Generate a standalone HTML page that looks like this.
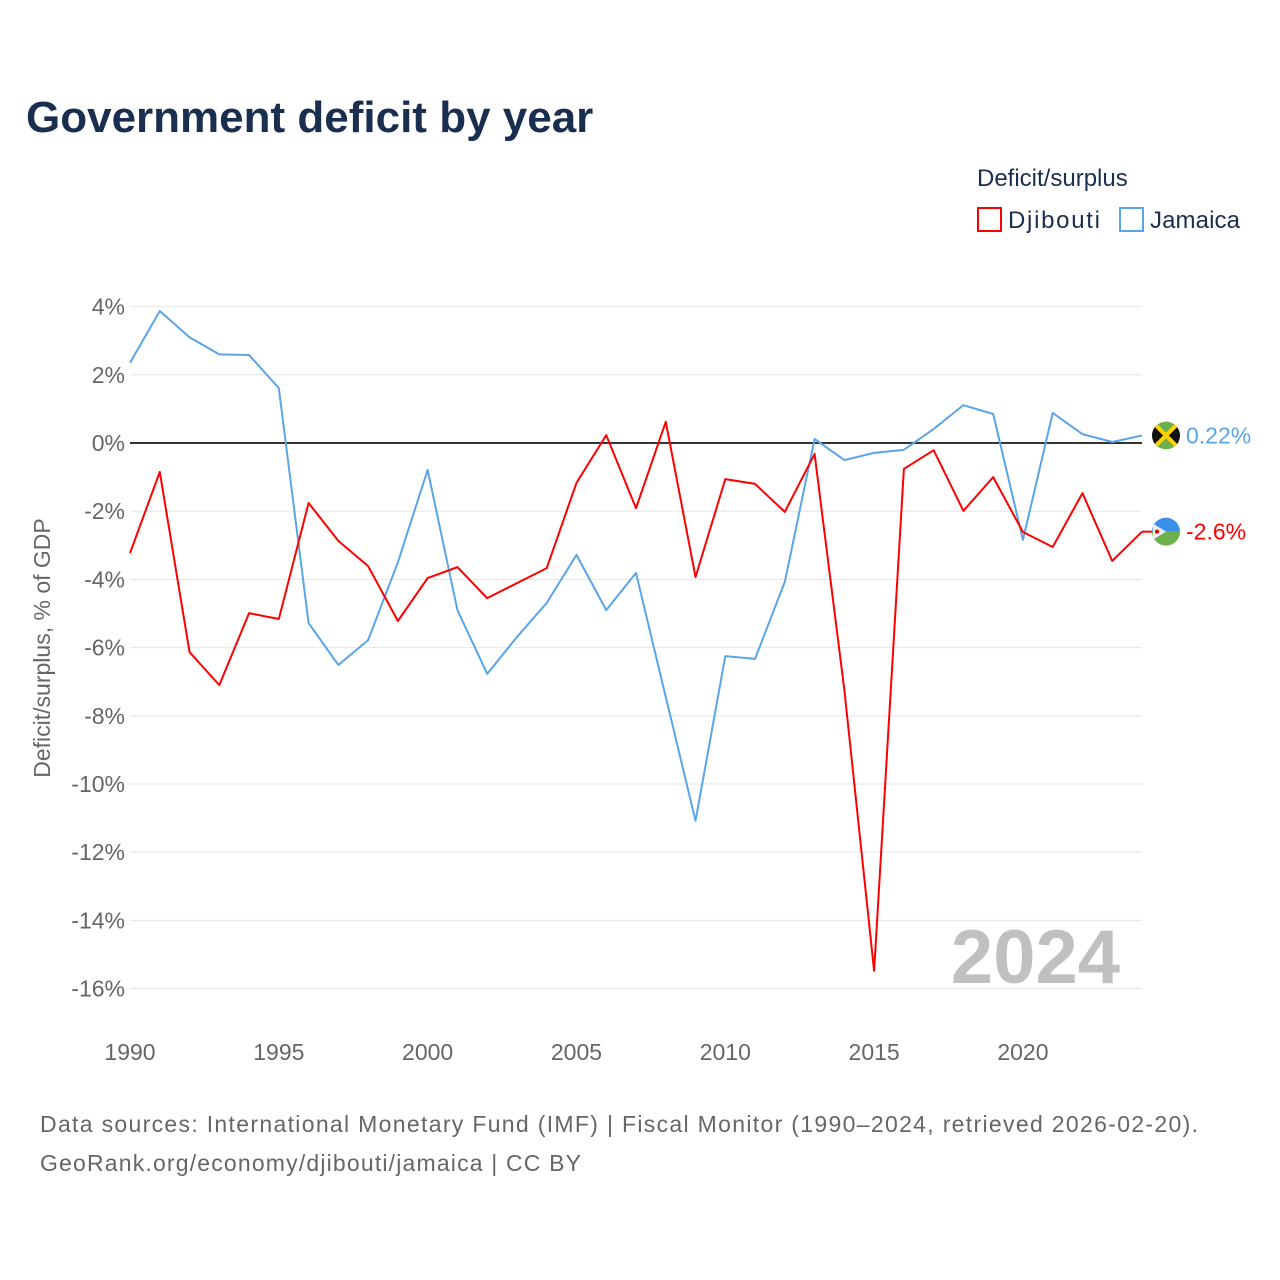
<!DOCTYPE html>
<html><head><meta charset="utf-8"><style>
html,body{margin:0;padding:0;background:#fff}
svg{display:block;font-family:"Liberation Sans",Lato,sans-serif}
</style></head><body>
<svg id="chart" width="1280" height="1280" viewBox="0 0 1280 1280">
<defs><clipPath id="jc"><circle id="jcc" cx="1166" cy="436" r="14"/></clipPath></defs>
<text x="26" y="132" font-size="44" font-weight="bold" fill="#1a2e4f">Government deficit by year</text>
<g>
<text x="977" y="186" font-size="24" fill="#1a2e4f">Deficit/surplus</text>
<rect x="978" y="208" width="23" height="23" fill="none" stroke="#f00" stroke-width="2"/>
<text x="1008" y="228" font-size="24" fill="#1a2e4f" textLength="92">Djibouti</text>
<rect x="1120" y="208" width="23" height="23" fill="none" stroke="#5aa5e8" stroke-width="2"/>
<text x="1150" y="228" font-size="24" fill="#1a2e4f" textLength="90">Jamaica</text>
</g>
<g id="grid"></g>
<g id="yticks"></g>
<g id="xticks"></g>
<text transform="translate(50,648) rotate(-90)" text-anchor="middle" font-size="23" fill="#666">Deficit/surplus, % of GDP</text>
<text x="1120" y="983" text-anchor="end" font-size="76" font-weight="bold" fill="#c0c0c0">2024</text>
<g id="series"></g>
<text x="40" y="1132" font-size="23" fill="#666" textLength="1158">Data sources: International Monetary Fund (IMF) | Fiscal Monitor (1990–2024, retrieved 2026-02-20).</text>
<text x="40" y="1171" font-size="23" fill="#666" textLength="541">GeoRank.org/economy/djibouti/jamaica | CC BY</text>
</svg>
<script>
const years = [];
for (let y = 1990; y <= 2024; y++) years.push(y);
const djibouti = [-3.23,-0.85,-6.13,-7.1,-4.99,-5.16,-1.76,-2.87,-3.61,-5.22,-3.96,-3.64,-4.55,-4.11,-3.67,-1.17,0.23,-1.91,0.62,-3.93,-1.06,-1.2,-2.02,-0.32,-7.24,-15.48,-0.76,-0.21,-1.99,-1.0,-2.61,-3.05,-1.47,-3.46,-2.6];
const jamaica = [2.35,3.87,3.1,2.6,2.58,1.61,-5.28,-6.51,-5.78,-3.5,-0.79,-4.9,-6.77,-5.69,-4.69,-3.28,-4.9,-3.81,-7.45,-11.08,-6.25,-6.33,-4.07,0.12,-0.5,-0.29,-0.2,0.41,1.11,0.85,-2.84,0.88,0.26,0.03,0.22];
const yTickValues = [4,2,0,-2,-4,-6,-8,-10,-12,-14,-16];
const xTickValues = [1990,1995,2000,2005,2010,2015,2020];

const NS = "http://www.w3.org/2000/svg";
const xS = v => 130 + (v - 1990) * (1142 - 130) / 34;
const yS = v => 443 - v * 34.1;
function mk(tag, attrs, parent) {
  const e = document.createElementNS(NS, tag);
  for (const k in attrs) e.setAttribute(k, attrs[k]);
  parent.appendChild(e);
  return e;
}
const grid = document.getElementById('grid');
const yt = document.getElementById('yticks');
const xt = document.getElementById('xticks');
const ser = document.getElementById('series');
yTickValues.forEach(v => {
  const l = mk('line', {x1:130, x2:1142, y1:yS(v), y2:yS(v), stroke: v===0?'#333':'#e6e6e6', 'stroke-width': v===0?2:1}, grid);
  
  
  const t = mk('text', {x:125, y:yS(v)+8, 'text-anchor':'end', 'font-size':23, fill:'#666'}, yt);
  t.textContent = v + '%';
  
  
});
xTickValues.forEach(v => {
  const t = mk('text', {x:xS(v), y:1060, 'text-anchor':'middle', 'font-size':23, fill:'#666'}, xt);
  t.textContent = v;
  
  
});
function line(data, color, name) {
  const p = mk('polyline', {points: data.map((v,i)=>xS(years[i])+','+yS(v)).join(' '), fill:'none', stroke:color, 'stroke-width':2, 'stroke-linejoin':'round'}, ser);
  
  
}
line(jamaica, '#5aa5e8', 'jamaica-line');
line(djibouti, '#f00', 'djibouti-line');

const jl = jamaica[jamaica.length-1], dl = djibouti[djibouti.length-1];
const jy = yS(jl), dy = yS(dl);
document.getElementById('jcc').setAttribute('cy', jy);
const jg = mk('g', {'clip-path':'url(#jc)'}, ser);


mk('circle', {cx:1166, cy:jy, r:14, fill:'#6ab04c'}, jg);
mk('path', {d:`M1152 ${jy-14} L1166 ${jy} L1152 ${jy+14} Z M1180 ${jy-14} L1166 ${jy} L1180 ${jy+14} Z`, fill:'#111'}, jg);
mk('path', {d:`M1152 ${jy-14} L1180 ${jy+14} M1180 ${jy-14} L1152 ${jy+14}`, stroke:'#fed100', 'stroke-width':4}, jg);
const jt = mk('text', {x:1186, y:jy+8, 'font-size':23, fill:'#5aa5e8'}, ser);
jt.textContent = jl.toFixed(2) + '%';



mk('line', {x1:1142, x2:1152, y1:dy, y2:dy, stroke:'#f00', 'stroke-width':2}, ser);
const dg = mk('g', {}, ser);


mk('path', {d:`M1152 ${dy} A14 14 0 0 1 1180 ${dy} Z`, fill:'#3a8fe8'}, dg);
mk('path', {d:`M1152 ${dy} A14 14 0 0 0 1180 ${dy} Z`, fill:'#6ab04c'}, dg);
mk('path', {d:`M1153 ${dy-8} L1166 ${dy} L1153 ${dy+8} Z`, fill:'#eee'}, dg);
mk('circle', {cx:1157, cy:dy, r:2, fill:'#d00'}, dg);
const dt = mk('text', {x:1186, y:dy+8, 'font-size':23, fill:'#f00'}, ser);
dt.textContent = dl.toFixed(1) + '%';


</script>
</body></html>
